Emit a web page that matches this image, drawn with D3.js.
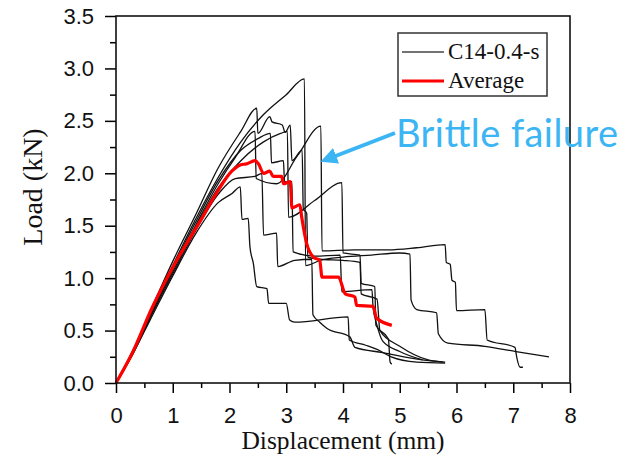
<!DOCTYPE html>
<html lang="en">
<head>
<meta charset="UTF-8">
<title>Load vs Displacement</title>
<script src="https://cdn.jsdelivr.net/npm/d3@7/dist/d3.min.js"></script>
<style>
    body { margin: 0; background: #fff; }
</style>
</head>
<body>
<svg id="mainsvg" width="626" height="461"></svg>
<script>
    // specimen curves C14-0.4-s, [displacement mm, load kN]
    const s1 = [[0,0],[0.3,0.3],[0.6,0.66],[1,1.12],[1.4,1.56],[1.8,1.96],[2.2,2.3],[2.6,2.56],[3.0,2.75],[3.32,2.9],[3.34,1.12],[3.6,1.17],[4.0,1.2],[4.5,1.22],[5.0,1.24],[5.18,1.23],[5.2,0.79],[5.3,0.7],[5.65,0.67],[5.68,0.47],[5.85,0.38],[6.5,0.35],[7.05,0.3],[7.63,0.25]];
    const s2 = [[0,0],[0.3,0.29],[0.6,0.63],[1,1.08],[1.4,1.5],[1.8,1.9],[2.1,2.15],[2.45,2.4],[2.47,1.95],[2.83,1.9],[3.2,2.17],[3.61,2.45],[3.63,1.26],[4.2,1.27],[4.8,1.27],[5.3,1.29],[5.8,1.32],[5.82,1.15],[5.89,1.13],[5.92,0.98],[5.98,0.96],[6.0,0.69],[6.5,0.7],[6.54,0.41],[7.03,0.34],[7.06,0.25],[7.12,0.15],[7.17,0.15]];
    const s3 = [[0,0],[0.3,0.31],[0.6,0.68],[1,1.16],[1.4,1.6],[1.8,2.05],[2.2,2.4],[2.48,2.62],[2.5,2.38],[2.71,2.54],[2.75,2.49],[2.93,2.46],[2.98,2.39],[3.07,2.46],[3.1,2.12],[3.28,2.22],[3.3,1.66],[3.36,1.62],[3.38,1.2],[3.6,1.18],[4.0,1.17],[4.3,1.15],[4.32,0.85],[4.6,0.8],[4.65,0.5],[5.0,0.35],[5.5,0.22],[5.8,0.2]];
    const s4 = [[0,0],[0.3,0.28],[0.6,0.6],[1,1.02],[1.4,1.42],[1.8,1.72],[2.05,1.81],[2.19,1.87],[2.22,1.56],[2.33,1.57],[2.36,1.3],[2.42,1.14],[2.48,0.92],[2.66,0.9],[2.69,0.76],[3.0,0.76],[3.06,0.6],[3.15,0.58],[4.09,0.63],[4.11,0.41],[4.4,0.36],[4.6,0.32],[4.85,0.25],[5.3,0.2],[5.8,0.19]];
    const s5 = [[0,0],[0.3,0.28],[0.6,0.62],[1,1.04],[1.4,1.45],[1.8,1.8],[2.1,1.95],[2.45,1.97],[2.57,2.0],[2.6,1.41],[2.83,1.43],[2.85,1.11],[3.15,1.17],[3.45,1.18],[3.47,0.65],[3.59,0.58],[3.72,0.52],[4.12,0.44],[4.21,0.34],[4.7,0.29],[5.4,0.22],[5.76,0.2]];
    const s6 = [[0,0],[0.3,0.29],[0.6,0.64],[1,1.06],[1.4,1.48],[1.8,1.86],[2.2,2.12],[2.6,2.3],[2.9,2.38],[3.02,2.4],[3.04,1.58],[3.5,1.74],[3.98,1.91],[4.0,1.24],[4.3,1.22],[4.32,0.95],[4.56,0.92],[4.58,0.55],[4.8,0.42],[4.83,0.2],[4.86,0.18]];
    const s7 = [[0,0],[0.3,0.3],[0.6,0.65],[1,1.1],[1.4,1.53],[1.8,1.93],[2.2,2.22],[2.5,2.33],[2.72,2.38],[2.74,2.1],[2.95,2.12],[2.97,1.92],[3.1,1.92],[3.12,1.25],[3.5,1.21],[3.95,1.22],[3.98,0.87],[4.51,0.89],[4.53,0.72],[4.6,0.55],[4.7,0.4],[5.0,0.3],[5.4,0.22]];
    const specimens = [s1, s2, s3, s4, s5, s6, s7];

    const average = [[0,0],[0.3,0.3],[0.63,0.71],[1.07,1.17],[1.48,1.54],[1.77,1.81],[2.04,2.02],[2.19,2.08],[2.3,2.09],[2.45,2.12],[2.51,2.09],[2.6,2.0],[2.71,2.02],[2.77,1.97],[2.92,1.97],[2.95,1.9],[3.07,1.92],[3.1,1.67],[3.24,1.7],[3.27,1.59],[3.36,1.33],[3.48,1.2],[3.59,1.17],[3.63,1.01],[3.92,1.01],[4.04,0.85],[4.21,0.82],[4.24,0.74],[4.53,0.73],[4.59,0.62],[4.86,0.55]];

    const xTicks = [0, 1, 2, 3, 4, 5, 6, 7, 8];
    const yTicks = [0, 0.5, 1.0, 1.5, 2.0, 2.5, 3.0, 3.5];
    const legendLabels = ['C14-0.4-s', 'Average'];

    const svg = d3.select('#mainsvg');
    const margin = {left: 116, right: 570, top: 16, bottom: 383};

    const x = d3.scaleLinear().domain([0, 8]).range([margin.left, margin.right]);
    const y = d3.scaleLinear().domain([0, 3.5]).range([margin.bottom, margin.top]);

    const sans = '"Liberation Sans", Arial, sans-serif';
    const serif = '"Liberation Serif", "Times New Roman", serif';

    // minor ticks
    svg.append('g')
        .attr('transform', `translate(0,${margin.bottom})`)
        .call(d3.axisBottom(x).tickValues(d3.range(0.5, 8, 1)).tickSize(5).tickFormat(''))
        .call(g => g.select('.domain').remove())
        .selectAll('line').attr('stroke-width', 1.5);
    svg.append('g')
        .attr('transform', `translate(${margin.left},0)`)
        .call(d3.axisLeft(y).tickValues(d3.range(0.25, 3.5, 0.5)).tickSize(6).tickFormat(''))
        .call(g => g.select('.domain').remove())
        .selectAll('line').attr('stroke-width', 1.5);

    // major ticks
    const xAxis = svg.append('g')
        .attr('transform', `translate(0,${margin.bottom})`)
        .call(d3.axisBottom(x).tickValues(xTicks).tickSize(10).tickPadding(14).tickFormat(d3.format('d')));
    xAxis.select('.domain').remove();
    xAxis.selectAll('line').attr('stroke-width', 1.5);
    xAxis.selectAll('text').attr('font-family', sans).attr('font-size', 22).attr('fill', '#111');

    const yAxis = svg.append('g')
        .attr('transform', `translate(${margin.left},0)`)
        .call(d3.axisLeft(y).tickValues(yTicks).tickSize(11).tickPadding(11).tickFormat(d3.format('.1f')));
    yAxis.select('.domain').remove();
    yAxis.selectAll('line').attr('stroke-width', 1.5);
    yAxis.selectAll('text').attr('font-family', sans).attr('font-size', 22).attr('fill', '#111');

    const line = d3.line().x(d => x(d[0])).y(d => y(d[1])).curve(d3.curveMonotoneX);

    svg.append('g').selectAll('path')
        .data(specimens)
        .join('path')
        .attr('d', line)
        .attr('fill', 'none')
        .attr('stroke', '#111')
        .attr('stroke-width', 1.3)
        .attr('stroke-linejoin', 'round');

    svg.append('path')
        .datum(average)
        .attr('d', line)
        .attr('fill', 'none')
        .attr('stroke', '#ff0000')
        .attr('stroke-width', 3.2)
        .attr('stroke-linejoin', 'round');

    // frame
    svg.append('rect')
        .attr('x', margin.left).attr('y', margin.top)
        .attr('width', margin.right - margin.left).attr('height', margin.bottom - margin.top)
        .attr('fill', 'none').attr('stroke', '#111').attr('stroke-width', 1.6);

    // axis titles
    svg.append('text')
        .attr('x', 343).attr('y', 449)
        .attr('text-anchor', 'middle')
        .attr('font-family', serif).attr('font-size', 25.5)
        .attr('fill', '#111')
        .text('Displacement (mm)');
    svg.append('text')
        .attr('transform', 'translate(42,187) rotate(-90)')
        .attr('text-anchor', 'middle')
        .attr('font-family', serif).attr('font-size', 28)
        .attr('fill', '#111')
        .text('Load (kN)');

    // legend
    const legend = svg.append('g');
    legend.append('rect')
        .attr('x', 398).attr('y', 33).attr('width', 149).attr('height', 63)
        .attr('fill', '#fff').attr('stroke', '#333').attr('stroke-width', 1.5);
    legend.selectAll('line')
        .data(legendLabels)
        .join('line')
        .attr('x1', 402).attr('x2', 444)
        .attr('y1', (d, i) => 52 + i * 29).attr('y2', (d, i) => 52 + i * 29)
        .attr('stroke', (d, i) => i === 0 ? '#444' : '#ff0000')
        .attr('stroke-width', (d, i) => i === 0 ? 1.5 : 3.2);
    legend.selectAll('text')
        .data(legendLabels)
        .join('text')
        .attr('x', 448)
        .attr('y', (d, i) => 59 + i * 29)
        .attr('font-family', serif).attr('font-size', 23)
        .attr('fill', '#111')
        .text(d => d);

    // annotation
    const blue = '#3bb5f3';
    svg.append('defs').append('marker')
        .attr('id', 'head')
        .attr('viewBox', '0 0 10 10')
        .attr('refX', 2).attr('refY', 5)
        .attr('markerWidth', 4.2).attr('markerHeight', 4.2)
        .attr('orient', 'auto')
        .append('path').attr('d', 'M0,0 L10,5 L0,10 Z').attr('fill', blue);
    svg.append('line')
        .attr('x1', 395).attr('y1', 133)
        .attr('x2', 333).attr('y2', 157)
        .attr('stroke', blue).attr('stroke-width', 4)
        .attr('marker-end', 'url(#head)');
    svg.append('text')
        .attr('x', 396).attr('y', 147)
        .attr('font-family', 'Lato, "Open Sans", sans-serif').attr('font-size', 38)
        .attr('fill', blue)
        .attr('textLength', 222)
        .text('Brittle failure');
</script>
</body>
</html>
